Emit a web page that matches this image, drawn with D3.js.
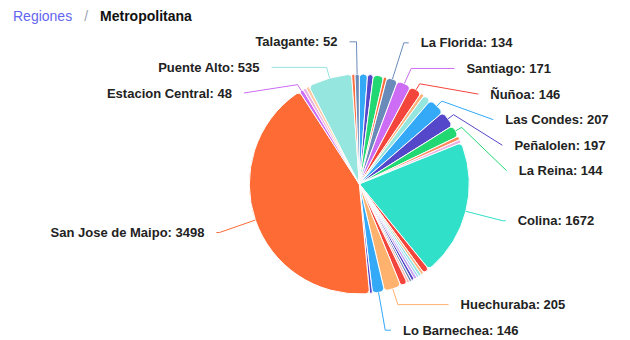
<!DOCTYPE html>
<html>
<head>
<meta charset="utf-8">
<script src="https://cdn.jsdelivr.net/npm/d3@7/dist/d3.min.js"></script>
<style>
  body { margin: 0; background: #fff; }
  svg { display: block; font-family: "Liberation Sans", Arial, Helvetica, sans-serif; }
</style>
</head>
<body>
<svg id="chart" width="630" height="340"></svg>
<script>
// Comunas of the Metropolitana region, in drawing order (clockwise from 12 o'clock)
const comunas = [
  "Providencia", "Vitacura", "Maipu", "Macul", "La Florida", "Santiago", "Ñuñoa",
  "Recoleta", "Quilicura", "Las Condes", "Peñalolen", "La Reina", "Lampa", "Pudahuel",
  "Colina", "Buin", "Cerrillos", "Independencia", "Conchali", "El Bosque", "La Cisterna",
  "La Granja", "Lo Prado", "San Bernardo", "Huechuraba", "Lo Barnechea", "Pirque",
  "San Jose de Maipo", "Estacion Central", "Paine", "Lo Espejo", "Puente Alto",
  "Quinta Normal", "Talagante"
];
const valores = [
  100, 70, 125, 40, 134, 171, 146,
  45, 95, 207, 197, 144, 45, 40,
  1672, 75, 35, 35, 30, 35, 35,
  30, 30, 85, 205, 146, 35,
  3498, 48, 40, 40, 535,
  40, 52
];
// Slice colours, one per comuna
const colores = [
  "#33a9f8", "#5447c9", "#21d872", "#ff6c3c", "#6a8aba", "#cd6cf4", "#f4453d",
  "#ffb27c", "#95e6de", "#33a9f8", "#5447c9", "#21d872", "#ff8a5c", "#eab0e4",
  "#31e0c9", "#f4453d", "#ffb27c", "#95e6de", "#a8d4fb", "#c7a0f0", "#5447c9",
  "#6a8aba", "#f7b8b0", "#f4453d", "#ffb16e", "#33a9f8", "#5447c9",
  "#ff6b35", "#cd6cf4", "#eab0e4", "#ffc8a0", "#95e6de",
  "#ff6c3c", "#6a8aba"
];
// Comunas whose label is printed beside the pie
const conEtiqueta = [
  "La Florida", "Santiago", "Ñuñoa", "Las Condes", "Peñalolen", "La Reina", "Colina",
  "Huechuraba", "Lo Barnechea", "San Jose de Maipo", "Estacion Central", "Puente Alto",
  "Talagante"
];
const ruta = ["Regiones", "Metropolitana"];

const svg = d3.select("#chart");

// ---- breadcrumb header ----
const crumb = svg.append("text").attr("x", 13).attr("y", 21).style("font-size", "14px");
crumb.append("tspan").attr("fill", "#6366f1").text(ruta[0]);
crumb.append("tspan").attr("dx", 12).attr("fill", "#9ca3af").text("/");
crumb.append("tspan").attr("dx", 12).attr("fill", "#111").attr("font-weight", "bold").text(ruta[1]);

// ---- pie ----
const cx = 359.3, cy = 184, r = 110;
const datos = comunas.map((c, i) => ({ name: c, value: valores[i], color: colores[i] }));

const pie = d3.pie().sort(null).value(d => d.value).startAngle(0).endAngle(2 * Math.PI);
const arcs = pie(datos);
const arc = d3.arc().innerRadius(0).outerRadius(r).cornerRadius(4);

const g = svg.append("g").attr("transform", `translate(${cx},${cy})`);
g.selectAll("path.slice")
  .data(arcs)
  .join("path")
  .attr("class", "slice")
  .attr("d", arc)
  .attr("fill", d => d.data.color)
  .attr("stroke", "#fff")
  .attr("stroke-width", 1);

// ---- outside labels with leader lines ----
const labelR = r + 38;     // natural label distance
const rA = r + 31;         // horizontal radius of the label curve
const len2 = 7;            // tail of the leader line
const gap = 12;            // space between line and text
const lineH = 25.6;        // vertical room per label
const topBound = 29, bottomBound = 343;

const labels = arcs
  .filter(a => conEtiqueta.includes(a.data.name))
  .map(a => {
    const ang = (a.startAngle + a.endAngle) / 2;
    const s = Math.sin(ang), c = Math.cos(ang);
    return { a, ang, s, c, side: s >= 0 ? 1 : -1, y: cy - labelR * c };
  });

function shiftSide(list) {
  list.sort((p, q) => p.y - q.y);
  for (let i = 1; i < list.length; i++) {
    if (list[i].y < list[i - 1].y + lineH) list[i].y = list[i - 1].y + lineH;
  }
  const last = list[list.length - 1];
  if (last && last.y + lineH / 2 > bottomBound) {
    last.y = bottomBound - lineH / 2;
    for (let i = list.length - 2; i >= 0; i--) {
      if (list[i].y > list[i + 1].y - lineH) list[i].y = list[i + 1].y - lineH;
    }
  }
  const first = list[0];
  if (first && first.y - lineH / 2 < topBound) {
    first.y = topBound + lineH / 2;
    for (let i = 1; i < list.length; i++) {
      if (list[i].y < list[i - 1].y + lineH) list[i].y = list[i - 1].y + lineH;
    }
  }
}

function placeX(list) {
  // labels of each half sit on an ellipse that passes through the outermost one
  [list.filter(l => l.y < cy), list.filter(l => l.y >= cy)].forEach(semi => {
    if (!semi.length) return;
    let ref = semi[0];
    semi.forEach(l => { if (Math.abs(l.y - cy) > Math.abs(ref.y - cy)) ref = l; });
    const dxRef = rA * Math.abs(ref.s);
    const dyRef = Math.abs(ref.y - cy);
    const rB = dxRef < rA ? dyRef / Math.sqrt(1 - (dxRef * dxRef) / (rA * rA)) : rA;
    semi.forEach(l => {
      const dy = Math.abs(l.y - cy);
      const off = rA * Math.sqrt(Math.max(0, 1 - (dy * dy) / (rB * rB))) + len2;
      l.x2 = cx + l.side * off;
    });
  });
}

[labels.filter(l => l.side > 0), labels.filter(l => l.side < 0)].forEach(list => {
  shiftSide(list);
  placeX(list);
});

labels.forEach(l => {
  l.p0 = [cx + r * l.s, cy - r * l.c];
  const ty = (cy - l.y) / l.c;
  let t = r + 7;
  if (ty > t) t = Math.min(ty, r + 45);
  l.p1 = [cx + t * l.s, cy - t * l.c];
  if (l.side * (l.x2 - l.p1[0]) < 3) l.x2 = l.p1[0] + l.side * 3;
  l.p2 = [l.x2, l.y];
});

svg.append("g").selectAll("polyline")
  .data(labels)
  .join("polyline")
  .attr("points", l => [l.p0, l.p1, l.p2].map(p => p.join(",")).join(" "))
  .attr("fill", "none")
  .attr("stroke", l => l.a.data.color)
  .attr("stroke-width", 1);

svg.append("g").selectAll("text")
  .data(labels)
  .join("text")
  .attr("x", l => l.x2 + l.side * gap)
  .attr("y", l => l.y)
  .attr("dy", "0.35em")
  .attr("text-anchor", l => (l.side > 0 ? "start" : "end"))
  .attr("fill", "#222")
  .attr("font-weight", "bold")
  .style("font-size", "13px")
  .text(l => `${l.a.data.name}: ${l.a.data.value}`);
</script>
</body>
</html>
